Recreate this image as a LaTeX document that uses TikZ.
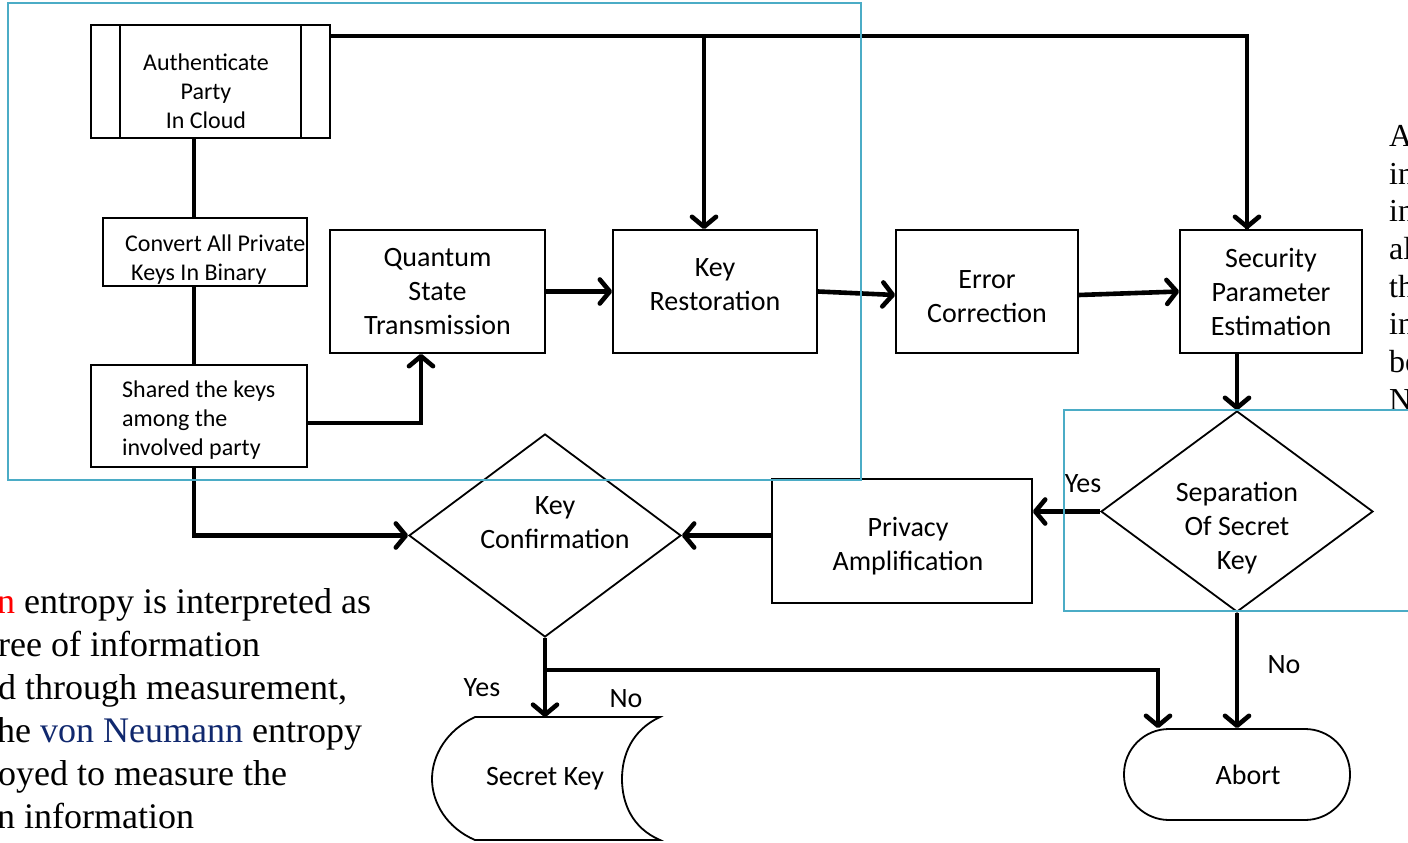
\documentclass[tikz,border=0pt]{standalone}
\usepackage{fontspec}
\usetikzlibrary{arrows.meta,shapes.geometric,calc}
\newfontfamily\carl{Carlito}
\newfontfamily\tms{Liberation Serif}
\definecolor{frame}{RGB}{75,172,198}
\definecolor{vnblue}{RGB}{16,40,110}
\begin{document}
\begin{tikzpicture}[x=1pt,y=-1pt,
  box/.style={draw, line width=1.8pt, fill=white, inner sep=0pt, align=center, font=\carl\fontsize{28}{34}\selectfont},
  smallbox/.style={draw, line width=1.8pt, fill=white, inner sep=0pt, align=center, font=\carl\fontsize{24}{29}\selectfont},
  diam/.style={draw, line width=1.8pt, fill=white, diamond, inner sep=0pt},
  lbl/.style={inner sep=0pt, align=center, font=\carl\fontsize{28}{34}\selectfont},
  slbl/.style={inner sep=0pt, align=left, font=\carl\fontsize{24}{29}\selectfont},
  conn/.style={line width=4.6pt, -{Straight Barb[length=10pt,width=24pt,round]}},
  plain/.style={line width=4.6pt},
  cyanframe/.style={draw=frame, line width=1.8pt},
  bodytext/.style={inner sep=0pt, anchor=base west, font=\tms\fontsize{36}{43}\selectfont},
  sidetext/.style={inner sep=0pt, anchor=base west, font=\tms\fontsize{32}{38}\selectfont}]
\useasboundingbox (0,0) rectangle (1408,843);
% background texts
\node[bodytext] (t1) at (-3,613) {\textcolor{red}{n} entropy is interpreted as};
\node[bodytext] (t2) at (-2,656) {ree of information};
\node[bodytext] (t3) at (-2,699) {d through measurement,};
\node[bodytext] (t4) at (-3,742) {he \textcolor{vnblue}{von Neumann} entropy};
\node[bodytext] (t5) at (-2,785) {oyed to measure the};
\node[bodytext] (t6) at (-3,828) {n information};
\node[sidetext] (r1) at (1389,146) {A};
\node[sidetext] (r2) at (1389,184) {in};
\node[sidetext] (r3) at (1389,221) {in};
\node[sidetext] (r4) at (1389,259) {al};
\node[sidetext] (r5) at (1389,297) {th};
\node[sidetext] (r6) at (1389,334) {in};
\node[sidetext] (r7) at (1389,372) {be};
\node[sidetext] (r8) at (1389,410) {N};
% boxes
\node[smallbox, minimum width=239pt, minimum height=113pt] (auth) at (210.5,81.5) {};
\draw[line width=1.8pt] ([xshift=30pt]auth.north west) -- ([xshift=30pt]auth.south west);
\draw[line width=1.8pt] ([xshift=-30pt]auth.north east) -- ([xshift=-30pt]auth.south east);
\node[slbl, align=center] (authT) at (206,91) {Authenticate\\Party\\In Cloud};
\node[smallbox, minimum width=204pt, minimum height=68pt] (conv) at (205,252) {};
\node[slbl, anchor=base west] (convA) at (125,251) {Convert All Private};
\node[slbl, anchor=base west] (convB) at (131,280) {Keys In Binary};
\node[smallbox, minimum width=216pt, minimum height=102pt] (shared) at (199,416) {};
\node[slbl, anchor=west] (sharedT) at (122,420) {Shared the keys\\among the\\involved party};
\node[box, minimum width=215pt, minimum height=123pt] (quant) at (437.5,291.5) {Quantum\\State\\Transmission};
\node[box, minimum width=204pt, minimum height=123pt] (keyr) at (715,291.5) {};
\node[lbl] (keyrT) at (715,285) {Key\\Restoration};
\node[box, minimum width=182pt, minimum height=123pt] (err) at (987,291.5) {};
\node[lbl] (errT) at (987,297) {Error\\Correction};
\node[box, minimum width=182pt, minimum height=123pt] (sec) at (1271,291.5) {Security\\Parameter\\Estimation};
\node[diam, minimum width=272pt, minimum height=201pt] (sep) at (1237,511.5) {};
\node[lbl] (sepT) at (1237,528) {Separation\\Of Secret\\Key};
\node[box, minimum width=260pt, minimum height=124pt] (priv) at (902,541) {};
\node[lbl] (privT) at (908,546) {Privacy\\Amplification};
\node[diam, minimum width=272pt, minimum height=203pt] (kc) at (545,535.5) {};
\node[lbl] (kcT) at (555,523) {Key\\Confirmation};
% secret key (stored data shape)
\coordinate (skTop) at (545,717);
\draw[line width=1.8pt, fill=white] (475,717) -- (660,717)
  .. controls (632,730) and (622,755) .. (622,779)
  .. controls (622,803) and (632,828) .. (660,840)
  -- (475,840)
  .. controls (447,828) and (432,803) .. (432,779)
  .. controls (432,755) and (447,730) .. (475,717) -- cycle;
\node[lbl] (skT) at (545,779) {Secret Key};
\node[draw, line width=1.8pt, fill=white, rounded corners=45pt, minimum width=226pt, minimum height=91pt, inner sep=0pt] (abort) at (1237,774.5) {};
\node[lbl] (abortT) at (1248,775) {Abort};
% connectors
\coordinate (top) at ([yshift=-12pt]auth.north east);
\coordinate (vx) at (194,0);
\coordinate (qx) at (421,0);
\coordinate (br) at (545,670);
\draw[plain] (top) -| ([xshift=-24pt]sec.north);
\draw[conn] ([xshift=-24pt]sec.north |- top) -- ([xshift=-24pt]sec.north);
\draw[conn] ([xshift=-11pt]keyr.north |- top) -- ([xshift=-11pt]keyr.north);
\draw[plain] (auth.south -| vx) -- (conv.north -| vx);
\draw[plain] (conv.south -| vx) -- (shared.north -| vx);
\draw[conn] (shared.south -| vx) |- (kc.west);
\draw[conn] ([yshift=-7pt]shared.east) -| (quant.south -| qx);
\draw[conn] (quant.east) -- (keyr.west);
\draw[conn] (keyr.east) -- ([yshift=-3.5pt]err.west);
\draw[conn] ([yshift=-3.5pt]err.east) -- (sec.west);
\draw[conn] (sep.north |- sec.south) -- (sep.north);
\draw[conn] (sep.west) -- (sep.west -| priv.east);
\draw[conn] (kc.east -| priv.west) -- (kc.east);
\draw[conn] (kc.south) -- (skTop);
\draw[conn] (br) -| ([xshift=-79pt]abort.north);
\draw[conn] (sep.south) -- (abort.north);
% labels
\node[lbl] (yes1) at (1083,484) {Yes};
\node[lbl] (yes2) at (482,688) {Yes};
\node[lbl] (no1) at (626,699) {No};
\node[lbl] (no2) at (1284,665) {No};
% cyan frames
\draw[cyanframe] (8,3) rectangle (861,480);
\draw[cyanframe] (1064,410) rectangle (1430,611);
\end{tikzpicture}
\end{document}
